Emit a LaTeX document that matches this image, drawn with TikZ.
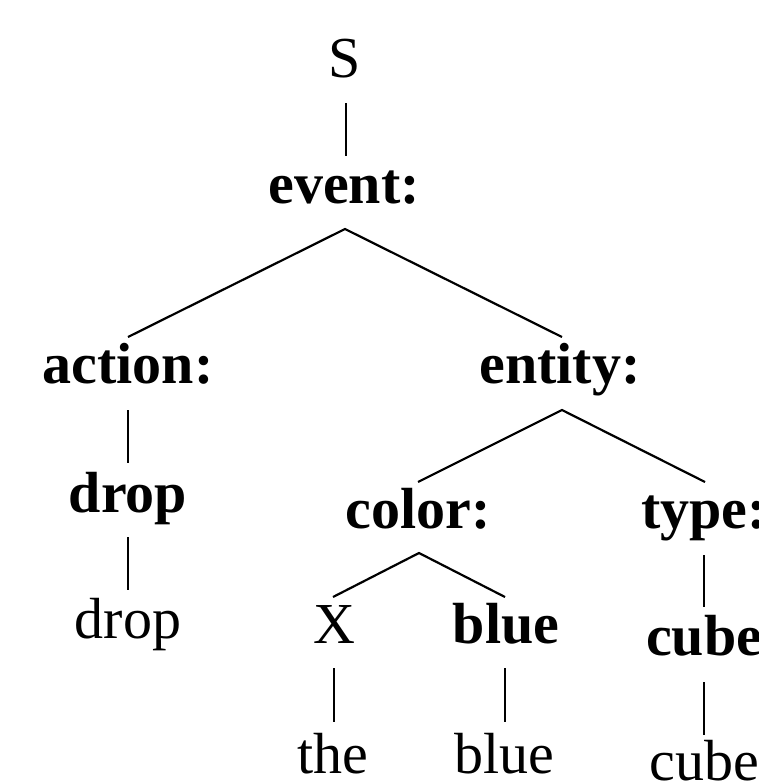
\documentclass[tikz,border=0pt]{standalone}
\usepackage{fontspec}
\setmainfont{Liberation Serif}
\begin{document}
\begin{tikzpicture}[x=1pt,y=-1pt,
  lab/.style={anchor=base,inner sep=0pt,font=\fontsize{58}{60}\selectfont},
  blab/.style={lab,font=\fontsize{58}{60}\selectfont\bfseries},
  edge/.style={line width=2.2pt}]
\useasboundingbox (0,0) rectangle (758,782);
\clip (0,0) rectangle (758,782);
\node[lab]  (S)      at (345,77)  {S};
\node[blab] (event)  at (344,203) {event:};
\node[blab] (action) at (128,383) {action:};
\node[blab] (entity) at (560,383) {entity:};
\node[blab] (dropB)  at (128,512) {drop};
\node[lab]  (dropR)  at (128,638) {drop};
\node[blab] (color)  at (418,528) {color:};
\node[blab] (type)   at (704,528) {type:};
\node[lab]  (X)      at (334,643) {X};
\node[blab] (blueB)  at (506,643) {blue};
\node[blab] (cubeB)  at (704,655) {cube};
\node[lab]  (the)    at (333,773) {the};
\node[lab]  (blueR)  at (504,773) {blue};
\node[lab]  (cubeR)  at (704,780) {cube};
% connectors
\draw[edge] ([yshift=-26pt,xshift=1pt]S.base) -- ([yshift=47pt,xshift=2pt]event.base);
\draw[edge] ([yshift=46pt]action.base) -- ([yshift=-26pt,xshift=1pt]event.base)
            -- ([yshift=46pt,xshift=2pt]entity.base);
\draw[edge] ([yshift=-27pt]action.base) -- ([yshift=49pt]dropB.base);
\draw[edge] ([yshift=-25pt]dropB.base) -- ([yshift=48pt]dropR.base);
\draw[edge] ([yshift=46pt]color.base) -- ([yshift=-27pt,xshift=2pt]entity.base)
            -- ([yshift=46pt,xshift=1pt]type.base);
\draw[edge] ([yshift=46pt,xshift=-1pt]X.base) -- ([yshift=-25pt,xshift=1pt]color.base)
            -- ([yshift=46pt,xshift=-1pt]blueB.base);
\draw[edge] ([yshift=-27pt]type.base) -- ([yshift=48pt]cubeB.base);
\draw[edge] ([yshift=-25pt]X.base) -- ([yshift=51pt,xshift=1pt]the.base);
\draw[edge] ([yshift=-25pt,xshift=-1pt]blueB.base) -- ([yshift=51pt,xshift=1pt]blueR.base);
\draw[edge] ([yshift=-27pt]cubeB.base) -- ([yshift=45pt]cubeR.base);
\end{tikzpicture}
\end{document}
